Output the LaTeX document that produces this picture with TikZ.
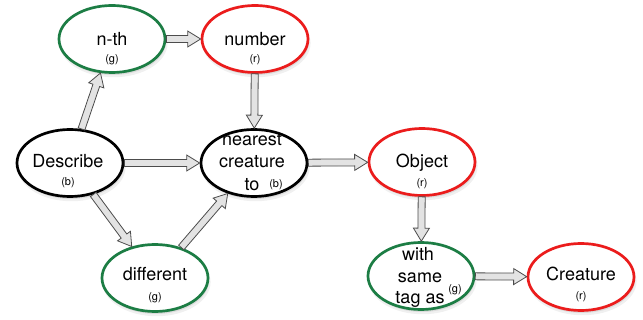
\documentclass[tikz,border=0pt]{standalone}
\usepackage{fontspec}
\setmainfont{TeX Gyre Heros}
\usetikzlibrary{shapes.geometric,shadows,calc}
\definecolor{egreen}{RGB}{28,125,68}
\definecolor{ered}{RGB}{235,28,28}
\tikzset{
  ell/.style={ellipse, minimum width=106pt, minimum height=67pt, inner sep=0pt,
    line width=2.7pt, fill=white,
    drop shadow={shadow xshift=1.5pt, shadow yshift=-4pt, opacity=0.12, shadow scale=1.02},
    drop shadow={shadow xshift=1pt, shadow yshift=-2.5pt, opacity=0.18}},
  gell/.style={ell, draw=egreen},
  rell/.style={ell, draw=ered},
  bell/.style={ell, draw=black},
  lab/.style={font=\fontsize{18}{21}\selectfont, inner sep=0pt, anchor=base},
  sub/.style={font=\fontsize{11}{13}\selectfont, inner sep=0pt, anchor=base},
  fatarrow/.style={draw=gray!60!black, fill=gray!22, line width=0.8pt, line join=miter},
}
\newcommand\fatarr[2]{%
  \path (#1) -- (#2) coordinate[pos=0] (fs) coordinate[pos=1] (fe);
  \path ($(fe)!13pt!(fs)$) coordinate (fh);
  \draw[fatarrow] ($(fs)!3.5pt!90:(fe)$) -- ($(fh)!3.5pt!-90:(fs)$)
    -- ($(fh)!8pt!-90:(fs)$) -- (fe) -- ($(fh)!8pt!90:(fs)$)
    -- ($(fh)!3.5pt!90:(fs)$) -- ($(fs)!3.5pt!-90:(fe)$) -- cycle;
}
\begin{document}
\begin{tikzpicture}[x=1pt,y=-1pt]
\useasboundingbox (0,0) rectangle (643,320);
% ellipses
\node[gell] (nth) at (112,39) {};
\node[rell] (num) at (255,39) {};
\node[bell] (desc) at (70,163) {};
\node[bell] (near) at (254,163) {};
\node[gell] (diff) at (155,278) {};
\node[rell] (obj) at (422,162) {};
\node[gell] (same) at (421,276) {};
\node[rell] (crea) at (581,277) {};
% arrows
\fatarr{desc}{nth}
\fatarr{nth}{num}
\fatarr{num}{near}
\fatarr{desc}{near}
\fatarr{desc}{diff}
\fatarr{diff}{near}
\fatarr{near}{obj}
\fatarr{obj}{same}
\fatarr{same}{crea}
% labels
\node[lab] (t1) at (112,46) {n-th};
\node[sub] (s1) at (112,63) {(g)};
\node[lab] (t2) at (255,46) {number};
\node[sub] (s2) at (255,63) {(r)};
\node[lab] (t3) at (68,168) {Describe};
\node[sub] (s3) at (68,186) {(b)};
\node[lab] (t4a) at (252,146) {nearest};
\node[lab] (t4b) at (252,168) {creature};
\node[lab] (t4c) at (252,191) {to};
\node[sub] (s4) at (276,188) {(b)};
\node[lab] (t5) at (155,281) {different};
\node[sub] (s5) at (155,301) {(g)};
\node[lab] (t6) at (422,168) {Object};
\node[sub] (s6) at (422,187) {(r)};
\node[lab] (t7a) at (418,261) {with};
\node[lab] (t7b) at (420,283) {same};
\node[lab] (t7c) at (420,304) {tag as};
\node[sub] (s7) at (455,293) {(g)};
\node[lab] (t8) at (581,281) {Creature};
\node[sub] (s8) at (581,300) {(r)};
\end{tikzpicture}
\end{document}
